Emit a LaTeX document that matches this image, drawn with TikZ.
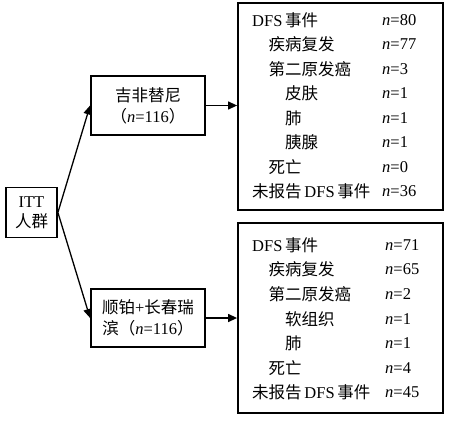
\documentclass[tikz,border=0pt]{standalone}
\usepackage{fontspec}
\setmainfont{Liberation Serif}
\newfontfamily\cjk{Noto Sans CJK SC}
\newcommand{\zh}[1]{{\cjk #1}}
\usetikzlibrary{arrows.meta}
\begin{document}
\begin{tikzpicture}[x=1pt,y=-1pt,font=\fontsize{16.5}{20}\selectfont,
  box/.style={draw,line width=1.8pt,align=center,inner sep=2pt},
  item/.style={anchor=west,inner sep=0pt},
  arr/.style={-{Triangle[length=9pt,width=8pt]},line width=1.3pt}]
  \useasboundingbox (0,0) rectangle (452,420);
  % left column
  \node[box,minimum width=51pt,minimum height=50pt] (itt) at (31.5,212.5) {ITT\\[0pt]\zh{人群}};
  \node[box,minimum width=114pt,minimum height=59pt] (gef) at (148,105.5) {\zh{吉非替尼}\\[1pt]\zh{（}\textit{n}=116\zh{）}};
  \node[box,minimum width=114pt,minimum height=58pt] (gpv) at (148,318) {\zh{顺铂}+\zh{长春瑞}\\[1pt]\zh{滨（}\textit{n}=116\zh{）}};
  % outcome boxes
  \node[box,minimum width=205pt,minimum height=207pt] (topbox) at (340.5,106.5) {};
  \node[box,minimum width=205pt,minimum height=190pt] (botbox) at (340.5,318) {};
  % connectors
  \draw[arr] (itt.east) -- (gef.west);
  \draw[arr] (itt.east) -- (gpv.west);
  \draw[arr] (gef.east) -- (gef.east -| topbox.west);
  \draw[arr] (gpv.east) -- (gpv.east -| botbox.west);
  % top list
  \foreach \lbl/\ind/\val [count=\i] in {DFS\,\zh{事件}/0/80, \zh{疾病复发}/1/77, \zh{第二原发癌}/1/3,
      \zh{皮肤}/2/1, \zh{肺}/2/1, \zh{胰腺}/2/1, \zh{死亡}/1/0, \zh{未报告}\,DFS\,\zh{事件}/0/36} {
    \node[item] (top\i) at ({252+16.5*\ind},{20+24.5*(\i-1)}) {\lbl};
    \node[item] (topn\i) at (382,{20+24.5*(\i-1)}) {\textit{n}=\val};
  }
  % bottom list
  \foreach \lbl/\ind/\val [count=\i] in {DFS\,\zh{事件}/0/71, \zh{疾病复发}/1/65, \zh{第二原发癌}/1/2,
      \zh{软组织}/2/1, \zh{肺}/2/1, \zh{死亡}/1/4, \zh{未报告}\,DFS\,\zh{事件}/0/45} {
    \node[item] (bot\i) at ({252+16.5*\ind},{245+24.6*(\i-1)}) {\lbl};
    \node[item] (botn\i) at (385,{245+24.6*(\i-1)}) {\textit{n}=\val};
  }
\end{tikzpicture}
\end{document}
